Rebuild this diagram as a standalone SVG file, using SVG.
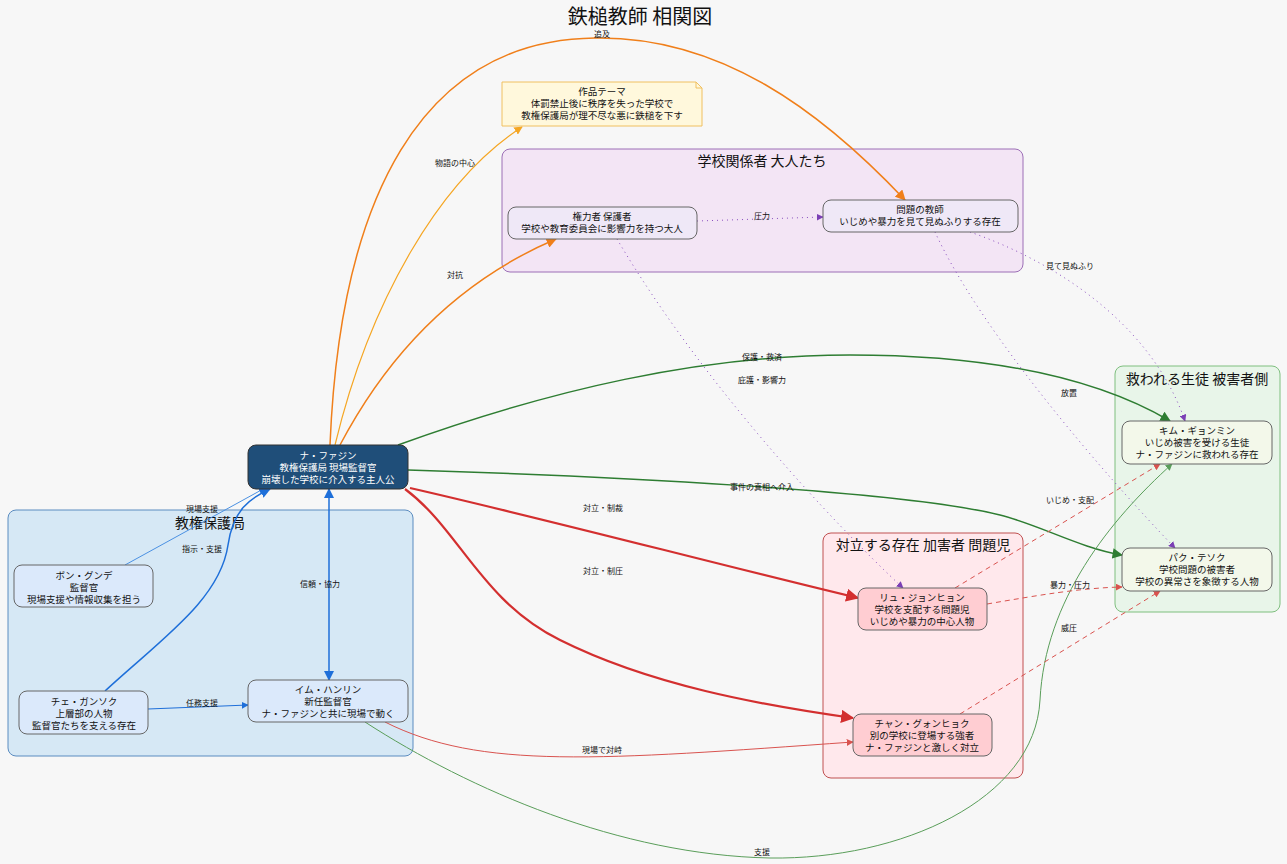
<svg xmlns="http://www.w3.org/2000/svg" width="1287" height="864" viewBox="0 0 1287 864">
<style>
text{font-family:"Noto Sans CJK JP","Noto Sans",sans-serif;text-anchor:middle;fill:#111}
.t{font-size:20px}
.ct{font-size:14px}
.n{font-size:9.5px}
.nw{font-size:9.5px;fill:#fff}
.l{font-size:8px}
.node{stroke:#666;stroke-width:1}
.e{fill:none}
</style>
<defs>
<marker id="aO" viewBox="0 0 10 10" refX="9" refY="5" markerWidth="7" markerHeight="7" orient="auto-start-reverse"><path d="M0,0L10,5L0,10z" fill="#f07f1a"/></marker>
<marker id="aY" viewBox="0 0 10 10" refX="9" refY="5" markerWidth="7" markerHeight="7" orient="auto"><path d="M0,0L10,5L0,10z" fill="#f5a623"/></marker>
<marker id="aP" viewBox="0 0 10 10" refX="9" refY="5" markerWidth="7" markerHeight="7" orient="auto"><path d="M0,0L10,5L0,10z" fill="#7b3fb5"/></marker>
<marker id="aG" viewBox="0 0 10 10" refX="9" refY="5" markerWidth="7" markerHeight="7" orient="auto"><path d="M0,0L10,5L0,10z" fill="#2e7d32"/></marker>
<marker id="aR" viewBox="0 0 10 10" refX="9" refY="5" markerWidth="6" markerHeight="6" orient="auto"><path d="M0,0L10,5L0,10z" fill="#d32f2f"/></marker>
<marker id="aRs" viewBox="0 0 10 10" refX="9" refY="5" markerWidth="7" markerHeight="7" orient="auto"><path d="M0,0L10,5L0,10z" fill="#d9534f"/></marker>
<marker id="aB" viewBox="0 0 10 10" refX="9" refY="5" markerWidth="7" markerHeight="7" orient="auto-start-reverse"><path d="M0,0L10,5L0,10z" fill="#1e6fd9"/></marker>
<marker id="aGs" viewBox="0 0 10 10" refX="9" refY="5" markerWidth="7" markerHeight="7" orient="auto"><path d="M0,0L10,5L0,10z" fill="#5a9e5a"/></marker>
</defs>
<rect width="1287" height="864" fill="#f7f7f7"/>
<text class="t" x="640" y="24">鉄槌教師  相関図</text>

<g id="clusters">
<g id="cluster-school"><rect x="502" y="149" width="521" height="123" rx="8" fill="#f3e5f5" stroke="#9c6fb6"/><text class="ct" x="762" y="166">学校関係者  大人たち</text></g>
<g id="cluster-kyoken"><rect x="8" y="510" width="405" height="246" rx="8" fill="#d6e8f5" stroke="#5b8cc0"/><text class="ct" x="210" y="528">教権保護局</text></g>
<g id="cluster-enemy"><rect x="823" y="533" width="200" height="245" rx="8" fill="#ffe8ec" stroke="#c05050"/><text class="ct" x="923" y="550">対立する存在  加害者  問題児</text></g>
<g id="cluster-victim"><rect x="1115" y="366" width="165" height="246" rx="8" fill="#e8f5e9" stroke="#7fbf7f"/><text class="ct" x="1197" y="384">救われる生徒  被害者側</text></g>
</g>

<g id="connectors">
<path class="e" d="M330,445 C340,200 420,40 595,38 C720,36 820,110 905,200" stroke="#f07f1a" stroke-width="1.5" marker-end="url(#aO)"/>
<text class="l" x="602" y="37">追及</text>
<path class="e" d="M335,445 C370,300 440,180 522,127" stroke="#f5a623" stroke-width="1.2" marker-end="url(#aY)"/>
<text class="l" x="455" y="166">物語の中心</text>
<path class="e" d="M340,445 C390,350 460,280 556,239" stroke="#f07f1a" stroke-width="1.5" marker-end="url(#aO)"/>
<text class="l" x="455" y="278">対抗</text>
<path class="e" d="M697,221 L823,217" stroke="#8a4fbf" stroke-width="1" stroke-dasharray="1,4" marker-end="url(#aP)"/>
<text class="l" x="762" y="219">圧力</text>
<path class="e" d="M970,232 C1050,260 1150,320 1185,421" stroke="#8a4fbf" stroke-width="1" stroke-dasharray="1,4" marker-end="url(#aP)"/>
<text class="l" x="1070" y="269">見て見ぬふり</text>
<path class="e" d="M935,232 C980,330 1100,470 1175,548" stroke="#8a4fbf" stroke-width="1" stroke-dasharray="1,4" marker-end="url(#aP)"/>
<text class="l" x="1069" y="396">放置</text>
<path class="e" d="M617,239 C700,380 830,520 903,588" stroke="#8a4fbf" stroke-width="1" stroke-dasharray="1,4" marker-end="url(#aP)"/>
<text class="l" x="762" y="383">庇護・影響力</text>
<path class="e" d="M398,445 C550,390 700,355 850,355 C1000,355 1100,380 1170,421" stroke="#2e7d32" stroke-width="1.5" marker-end="url(#aG)"/>
<text class="l" x="762" y="360">保護・救済</text>
<path class="e" d="M408,470 C600,476 900,490 1000,515 C1040,525 1080,548 1122,555" stroke="#2e7d32" stroke-width="1.5" marker-end="url(#aG)"/>
<text class="l" x="762" y="490">事件の真相へ介入</text>
<path class="e" d="M410,488 C550,520 700,560 858,598" stroke="#d32f2f" stroke-width="2.2" marker-end="url(#aR)"/>
<text class="l" x="603" y="511">対立・制裁</text>
<path class="e" d="M405,489 C460,530 480,600 560,640 C650,685 760,705 853,718" stroke="#d32f2f" stroke-width="2.2" marker-end="url(#aR)"/>
<text class="l" x="603" y="574">対立・制圧</text>
<path class="e" d="M329,489 L329,680" stroke="#1e6fd9" stroke-width="1.5" marker-start="url(#aB)" marker-end="url(#aB)"/>
<text class="l" x="320" y="587">信頼・協力</text>
<path class="e" d="M125,565 L265,488" stroke="#4a90e2" stroke-width="1" marker-end="url(#aB)"/>
<text class="l" x="202" y="512">現場支援</text>
<path class="e" d="M105,691 C160,640 220,600 228,545 C233,510 250,498 270,489" stroke="#1e6fd9" stroke-width="1.5" marker-end="url(#aB)"/>
<text class="l" x="202" y="552">指示・支援</text>
<path class="e" d="M148,709 L248,705" stroke="#1e6fd9" stroke-width="1" marker-end="url(#aB)"/>
<text class="l" x="202" y="706">任務支援</text>
<path class="e" d="M385,722 C480,770 600,760 853,742" stroke="#d9534f" stroke-width="1" marker-end="url(#aRs)"/>
<text class="l" x="602" y="753">現場で対峙</text>
<path class="e" d="M365,722 C470,790 620,855 770,858 C900,860 1035,800 1040,700 C1045,600 1110,520 1172,464" stroke="#5a9e5a" stroke-width="1" marker-end="url(#aGs)"/>
<text class="l" x="762" y="855">支援</text>
<path class="e" d="M955,588 L1160,464" stroke="#d9534f" stroke-width="1" stroke-dasharray="5,4" marker-end="url(#aRs)"/>
<text class="l" x="1070" y="503">いじめ・支配</text>
<path class="e" d="M987,604 C1040,595 1080,588 1122,587" stroke="#d9534f" stroke-width="1" stroke-dasharray="5,4" marker-end="url(#aRs)"/>
<text class="l" x="1070" y="588">暴力・圧力</text>
<path class="e" d="M960,714 L1160,591" stroke="#d9534f" stroke-width="1" stroke-dasharray="5,4" marker-end="url(#aRs)"/>
<text class="l" x="1069" y="631">威圧</text>
</g>

<g id="theme">
<path d="M502,82 L696,82 L702,88 L702,126 L502,126 Z" fill="#fff8dc" stroke="#f0c060"/>
<path d="M696,82 L696,88 L702,88" fill="none" stroke="#f0c060"/>
<text class="n" x="602" y="95">作品テーマ</text>
<text class="n" x="602" y="107">体罰禁止後に秩序を失った学校で</text>
<text class="n" x="602" y="119">教権保護局が理不尽な悪に鉄槌を下す</text>
</g>

<g id="n-kenryoku"><rect class="node" x="508" y="207" width="189" height="32" rx="8" fill="#efe8f7"/>
<text class="n" x="602" y="220">権力者  保護者</text><text class="n" x="602" y="232">学校や教育委員会に影響力を持つ大人</text></g>
<g id="n-kyoshi"><rect class="node" x="823" y="200" width="195" height="32" rx="8" fill="#efe8f7"/>
<text class="n" x="920" y="213">問題の教師</text><text class="n" x="920" y="225">いじめや暴力を見て見ぬふりする存在</text></g>

<g id="n-na"><rect x="248" y="445" width="160" height="44" rx="8" fill="#1f4e79" stroke="#333" stroke-width="1"/>
<text class="nw" x="328" y="459">ナ・ファジン</text><text class="nw" x="328" y="471">教権保護局  現場監督官</text><text class="nw" x="328" y="483">崩壊した学校に介入する主人公</text></g>

<g id="n-bon"><rect class="node" x="14" y="565" width="139" height="42" rx="8" fill="#dbe9fb"/>
<text class="n" x="84" y="579">ボン・グンデ</text><text class="n" x="84" y="591">監督官</text><text class="n" x="84" y="603">現場支援や情報収集を担う</text></g>
<g id="n-che"><rect class="node" x="19" y="691" width="129" height="43" rx="8" fill="#dbe9fb"/>
<text class="n" x="84" y="705">チェ・ガンソク</text><text class="n" x="84" y="717">上層部の人物</text><text class="n" x="84" y="729">監督官たちを支える存在</text></g>
<g id="n-im"><rect class="node" x="248" y="680" width="160" height="42" rx="8" fill="#dbe9fb"/>
<text class="n" x="328" y="693">イム・ハンリン</text><text class="n" x="328" y="705">新任監督官</text><text class="n" x="328" y="717">ナ・ファジンと共に現場で動く</text></g>

<g id="n-ryu"><rect class="node" x="858" y="588" width="129" height="42" rx="8" fill="#ffcdd2"/>
<text class="n" x="922" y="601">リュ・ジョンヒョン</text><text class="n" x="922" y="613">学校を支配する問題児</text><text class="n" x="922" y="625">いじめや暴力の中心人物</text></g>
<g id="n-chan"><rect class="node" x="853" y="714" width="139" height="42" rx="8" fill="#ffcdd2"/>
<text class="n" x="922" y="727">チャン・グォンヒョク</text><text class="n" x="922" y="739">別の学校に登場する強者</text><text class="n" x="922" y="751">ナ・ファジンと激しく対立</text></g>

<g id="n-kim"><rect class="node" x="1122" y="421" width="150" height="43" rx="8" fill="#f3f8ea"/>
<text class="n" x="1197" y="434">キム・ギョンミン</text><text class="n" x="1197" y="446">いじめ被害を受ける生徒</text><text class="n" x="1197" y="458">ナ・ファジンに救われる存在</text></g>
<g id="n-park"><rect class="node" x="1122" y="548" width="150" height="43" rx="8" fill="#f3f8ea"/>
<text class="n" x="1197" y="561">パク・テソク</text><text class="n" x="1197" y="573">学校問題の被害者</text><text class="n" x="1197" y="585">学校の異常さを象徴する人物</text></g>
</svg>
